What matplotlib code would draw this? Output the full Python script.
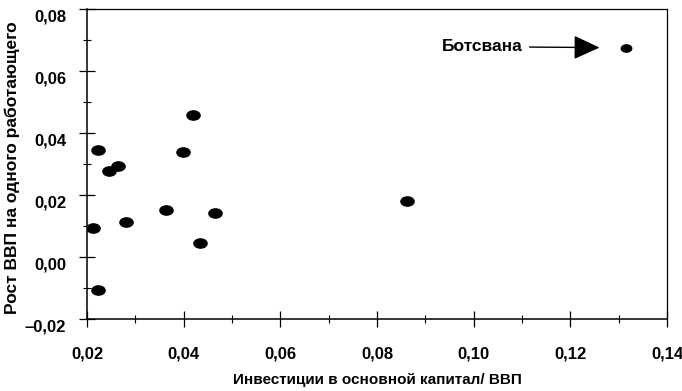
import matplotlib
matplotlib.use("Agg")
import matplotlib.pyplot as plt
import matplotlib.transforms as mtransforms
from matplotlib.path import Path
from matplotlib.ticker import MultipleLocator, FuncFormatter

plt.rcParams['font.family'] = ['Liberation Sans', 'DejaVu Sans']
plt.rcParams['font.weight'] = 'bold'
plt.rcParams['axes.labelweight'] = 'bold'

# investment share of GDP vs growth of GDP per worker
invest = [0.0223, 0.0245, 0.0265, 0.0212, 0.0280, 0.0223, 0.0419,
          0.0398, 0.0363, 0.0465, 0.0434, 0.0862]
growth = [0.0344, 0.0277, 0.0293, 0.0094, 0.0113, -0.0106, 0.0458,
          0.0339, 0.0152, 0.0142, 0.0045, 0.0181]
botswana_invest = 0.1315
botswana_growth = 0.0675
botswana_label = "Ботсвана"

x_label = "Инвестиции в основной капитал/ ВВП"
y_label = "Рост ВВП на одного работающего"

# flattened ellipse marker
ellipse = Path.unit_circle().transformed(mtransforms.Affine2D().scale(1.0, 0.7))

fig = plt.figure(figsize=(6.82, 3.91), dpi=100)
ax = fig.add_axes([87 / 682, 1 - 319 / 391, 580 / 682, 310 / 391])

ax.plot(invest, growth, linestyle='none', marker=ellipse, markersize=9.5,
        color='black')
ax.plot([botswana_invest], [botswana_growth], linestyle='none',
        marker=ellipse, markersize=7.5, color='black')

ax.annotate(botswana_label, xy=(botswana_invest, botswana_growth),
            xytext=(-184, 1), textcoords='offset pixels',
            ha='left', va='center', fontsize=12.5,
            arrowprops=dict(arrowstyle='-|>,head_length=1.3,head_width=0.6',
                            color='black', lw=1.0, shrinkA=3, shrinkB=19))

ax.set_xlim(0.02, 0.14)
ax.set_ylim(-0.02, 0.08)

comma = FuncFormatter(lambda v, pos: f"{v:.2f}".replace('.', ',').replace('-', '\u2013'))
ax.xaxis.set_major_locator(MultipleLocator(0.02))
ax.xaxis.set_minor_locator(MultipleLocator(0.01))
ax.yaxis.set_major_locator(MultipleLocator(0.02))
ax.yaxis.set_minor_locator(MultipleLocator(0.01))
ax.xaxis.set_major_formatter(comma)
ax.yaxis.set_major_formatter(comma)

ax.tick_params(which='major', direction='inout', length=12, width=0.9,
               labelsize=12, colors='black')
ax.tick_params(which='minor', direction='inout', length=6, width=0.8)
ax.tick_params(axis='x', which='major', pad=14)
ax.tick_params(axis='y', which='major', pad=9)

# tick labels on the y axis sit a little below their ticks
shift = mtransforms.ScaledTranslation(0, -7 / 100, fig.dpi_scale_trans)
for lab in ax.get_yticklabels():
    lab.set_transform(lab.get_transform() + shift)

for side in ['left', 'bottom']:
    ax.spines[side].set_linewidth(1.1)
for side in ['top', 'right']:
    ax.spines[side].set_linewidth(0.9)

ax.set_xlabel(x_label, fontsize=11, va='center')
ax.xaxis.set_label_coords(0.5, -(380 - 319) / 310)
ax.set_ylabel(y_label, fontsize=12.5, va='center')
ax.yaxis.set_label_coords((12 - 87) / 580, (319 - 168) / 310)

fig.savefig("out.png", dpi=100)
